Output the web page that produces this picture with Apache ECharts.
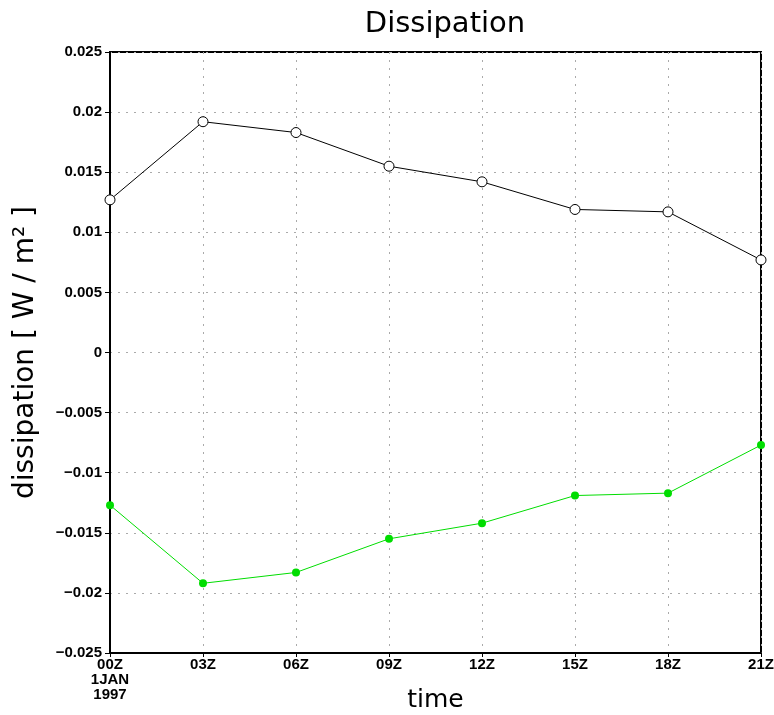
<!DOCTYPE html>
<html><head><meta charset="utf-8">
<script src="https://cdn.jsdelivr.net/npm/echarts@6/dist/echarts.min.js"></script>
<style>html,body{margin:0;padding:0;background:#fff}#c{width:774px;height:715px}</style>
</head><body><div id="c"></div>
<script>
const categories = ['00Z\n1JAN\n1997','03Z','06Z','09Z','12Z','15Z','18Z','21Z'];
const upperValues = [0.0127,0.0192,0.0183,0.0155,0.0142,0.0119,0.0117,0.0077];
const lowerValues = [-0.0127,-0.0192,-0.0183,-0.0155,-0.0142,-0.0119,-0.0117,-0.0077];
const yTicks = [-0.025,-0.02,-0.015,-0.01,-0.005,0,0.005,0.01,0.015,0.02,0.025];

const chart = echarts.init(document.getElementById('c'));
const labelFont = {color:'#000', fontSize:15, fontFamily:'Liberation Sans', fontWeight:'bold'};
chart.setOption({
  animation:false,
  title:{text:'Dissipation', left:440, top:5, textAlign:'center',
    textStyle:{fontSize:29, fontWeight:'normal', fontFamily:'DejaVu Sans', color:'#000'}},
  grid:{left:110, right:13, top:52, bottom:62, outerBoundsMode:'none', containLabel:false,
    show:true, borderColor:'#000', borderWidth:2, backgroundColor:'transparent'},
  xAxis:{type:'category', data:categories, boundaryGap:false,
    name:'time', nameLocation:'middle', nameGap:35, nameMoveOverlap:false,
    nameTextStyle:{fontSize:25, fontFamily:'DejaVu Sans', color:'#000'},
    axisLine:{onZero:false, lineStyle:{color:'#000', width:2}},
    axisTick:{show:true, length:4, lineStyle:{color:'#000'}},
    axisLabel:Object.assign({margin:4, lineHeight:15, interval:0, formatter:v=>v}, labelFont),
    splitLine:{show:true, lineStyle:{color:'#aaa', type:[2,6], width:1}}},
  yAxis:{type:'value', min:-0.025, max:0.025, interval:0.005,
    name:'dissipation [ W / m\u00b2 ]', nameLocation:'middle', nameGap:70, nameRotate:90, nameMoveOverlap:false,
    nameTextStyle:{fontSize:28, fontFamily:'DejaVu Sans', color:'#000'},
    axisLine:{show:true, onZero:false, lineStyle:{color:'#000', width:2}},
    axisTick:{show:true, length:5, lineStyle:{color:'#000'}},
    axisLabel:Object.assign({margin:8, formatter:v=>{
      const t = yTicks.find(x=>Math.abs(x-v)<1e-9);
      const val = t===undefined ? v : t;
      return val===0 ? '0' : String(+val.toFixed(3)).replace('-', '\u2212');
    }}, labelFont),
    splitLine:{show:true, lineStyle:{color:'#aaa', type:[2,6], width:1}}},
  series:[
    {type:'line', data:upperValues, symbol:'circle', symbolSize:10,
      lineStyle:{color:'#000', width:1}, itemStyle:{color:'#fff', borderColor:'#000', borderWidth:1}, z:3},
    {type:'line', data:lowerValues, symbol:'circle', symbolSize:8,
      lineStyle:{color:'#00dd00', width:1}, itemStyle:{color:'#00dd00'}, z:3}
  ]
});
</script></body></html>
